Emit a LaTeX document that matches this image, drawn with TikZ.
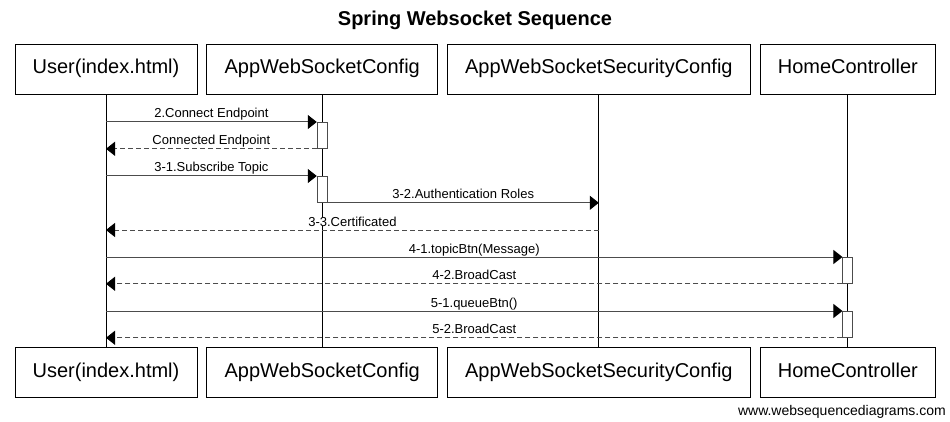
\documentclass[tikz,border=0pt]{standalone}
\usepackage{fontspec}
\setmainfont{Liberation Sans}
\usepackage{tikz}
\usetikzlibrary{shapes,positioning,calc}
\usetikzlibrary{arrows.meta}
\colorlet{linegray}{black!70}
\tikzstyle{arrow} = [line width=1pt,linegray,-{Triangle[length=9pt,width=14pt,color=black]}]
\tikzstyle{reply} = [arrow,dash pattern=on 5pt off 3pt]

\begin{document}
\begin{tikzpicture}[x=1pt,y=-1pt,
	actor/.style={rectangle, draw, line width=0.8pt, minimum height=50pt, inner xsep=17.7pt, text height=14.5pt, text depth=4.5pt, font=\fontsize{20}{24}\selectfont},
	activation/.style={rectangle, draw=linegray, fill=white, line width=0.8pt, minimum width=10pt, minimum height=26pt, inner sep=0pt, anchor=north},
	msglabel/.style={anchor=base, fill=white, inner xsep=0pt, inner ysep=0pt, text depth=0pt, yshift=4pt, text=black, font=\fontsize{13}{15}\selectfont}]
		
		\useasboundingbox (0,0) rectangle (950,422);
		
		% TITLE
		
		\node (title) at (475,20) {\fontsize{20}{24}\selectfont\textbf{Spring Websocket Sequence}};
		
		% ACTORS
		
		\node [actor] (user) at (106,69) {User(index.html)};
		\node [actor, right=9pt of user] (appconfig) {AppWebSocketConfig};
		\node [actor, right=9pt of appconfig] (secconfig) {AppWebSocketSecurityConfig};
		\node [actor, right=9pt of secconfig] (home) {HomeController};
		
		\node [actor, below=253pt of user] (userend) {User(index.html)};
		\node [actor, below=253pt of appconfig] (appconfigend) {AppWebSocketConfig};
		\node [actor, below=253pt of secconfig] (secconfigend) {AppWebSocketSecurityConfig};
		\node [actor, below=253pt of home] (homeend) {HomeController};
		
		% LIFELINES
		
		\foreach \a in {user,appconfig,secconfig,home}
			\draw [line width=0.8pt] (\a.south) -- (\a end.north);
		
		% ACTIVATIONS
		
		\node [activation] (connect) at (appconfig |- 0,122) {};
		\node [activation] (subscribe) at (appconfig |- 0,176) {};
		\node [activation] (topic) at (home |- 0,257) {};
		\node [activation] (queue) at (home |- 0,311) {};
		\coordinate (certificated) at (secconfig |- 0,230);
		
		% MESSAGES
		
		\draw [arrow] (user |- connect.north) -- node [msglabel] {2.Connect Endpoint} (connect.north west);
		\draw [reply] (connect.south west) -- node [msglabel] {Connected Endpoint} (user |- connect.south);
		\draw [arrow] (user |- subscribe.north) -- node [msglabel] {3-1.Subscribe Topic} (subscribe.north west);
		\draw [arrow] (subscribe.south east) -- node [msglabel] {3-2.Authentication Roles} (secconfig |- subscribe.south);
		\draw [reply] (certificated) -- node [msglabel] {3-3.Certificated} (user |- certificated);
		\draw [arrow] (user |- topic.north) -- node [msglabel] {4-1.topicBtn(Message)} (topic.north west);
		\draw [reply] (topic.south west) -- node [msglabel] {4-2.BroadCast} (user |- topic.south);
		\draw [arrow] (user |- queue.north) -- node [msglabel] {5-1.queueBtn()} (queue.north west);
		\draw [reply] (queue.south west) -- node [msglabel] {5-2.BroadCast} (user |- queue.south);
		
		% FOOTER
		
		\node [anchor=base east, inner sep=0pt, font=\fontsize{14}{16}\selectfont] (footer) at (946,415) {www.websequencediagrams.com};
		
		\end{tikzpicture}
\end{document}
